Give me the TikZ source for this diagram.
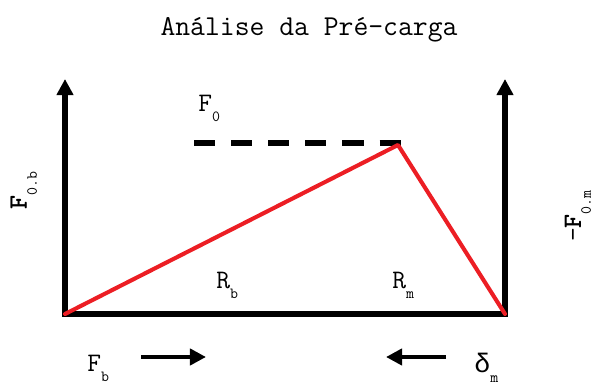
\documentclass[tikz,border=0pt]{standalone}
\usepackage{fontspec}
\newfontfamily\greekmono{Liberation Mono}
\usetikzlibrary{arrows.meta}

\definecolor{loadred}{RGB}{236,30,36}
\newcommand{\lowsub}[1]{\raisebox{-7pt}{\fontsize{11}{13}\selectfont #1}}

\begin{document}
\begin{tikzpicture}[x=0.025cm, y=-0.025cm,
    axis/.style={line width=3.6pt, -{Triangle[length=11.5pt,width=11.5pt]}},
    baseline/.style={line width=4.3pt, line cap=rect},
    preload/.style={line width=4.3pt, dash pattern=on 15pt off 11.4pt},
    spring/.style={loadred, line width=2.9pt, line cap=round, line join=round},
    push/.style={line width=3.4pt, -{Triangle[length=11.5pt,width=11.5pt]}},
    lbl/.style={inner sep=0pt, font=\ttfamily\fontsize{19}{22}\selectfont}]
    \useasboundingbox (0,0) rectangle (593,385);

    \node[lbl, font=\ttfamily\fontsize{20.5}{24}\selectfont] (title) at (309,30) {Análise da Pré-carga};

    % corners of the diagram
    \coordinate (bl) at (65,314);
    \coordinate (br) at (505,314);
    \coordinate (tl) at (65,79);
    \coordinate (tr) at (505,79);
    \coordinate (pk) at (398,145);
    \coordinate (d0) at (194,143);
    \coordinate (d1) at (403,143);

    \draw[axis] (bl) -- (tl);
    \draw[axis] (br) -- (tr);
    \draw[baseline] (bl) -- (br);
    \draw[preload] (d0) -- (d1);
    \draw[spring] (bl) -- (pk) -- (br);

    % labels
    \node[lbl, anchor=base west] (f0) at (198,112) {F\lowsub{0}};
    \node[lbl, anchor=base west] (rb) at (216,289) {R\lowsub{b}};
    \node[lbl, anchor=base west] (rm) at (392,289) {R\lowsub{m}};
    \node[lbl, anchor=base west] (fb) at (87,372) {F\lowsub{b}};
    \node[lbl, anchor=base west] (dm) at (474,373) {{\greekmono δ}\lowsub{m}};
    \node[lbl, anchor=base, rotate=90] (f0b) at (27,191) {\textbf{F}\lowsub{0.b}};
    \node[lbl, anchor=base, rotate=90] (f0m) at (581,216) {-\textbf{F}\lowsub{0.m}};

    % small load arrows
    \coordinate (fa1) at (141,357);
    \coordinate (fa2) at (206,357);
    \coordinate (da1) at (446,357);
    \coordinate (da2) at (386,357);
    \draw[push] (fa1) -- (fa2);
    \draw[push] (da1) -- (da2);
\end{tikzpicture}
\end{document}
